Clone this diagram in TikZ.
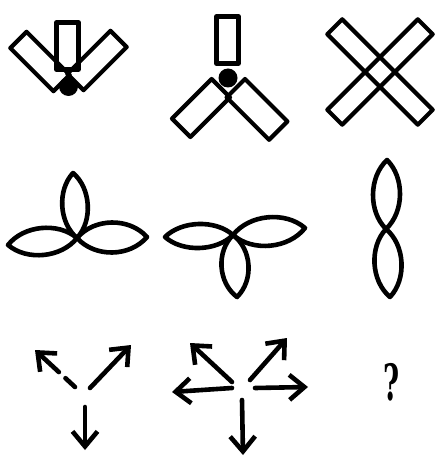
\documentclass[tikz,border=0pt]{standalone}
\usepackage{fontspec}
\newfontfamily\qfont{DejaVu Serif}
\usetikzlibrary{arrows.meta,calc}
\newcommand\lensshape[3]{%
  \draw[petal] (#1) .. controls ($(#1)!0.25!(#2)!#3!90:(#2)$) and ($(#1)!0.75!(#2)!#3!-90:(#1)$) .. (#2)
    .. controls ($(#2)!0.25!(#1)!#3!90:(#1)$) and ($(#2)!0.75!(#1)!#3!-90:(#2)$) .. cycle;}
\begin{document}
\begin{tikzpicture}[x=1pt,y=-1pt,
  bar/.style={draw, line width=4.2pt, line join=round, inner sep=0pt, minimum width=61pt, minimum height=23pt},
  longbar/.style={bar, minimum width=128pt, minimum height=21pt},
  upbar/.style={draw, line width=4.2pt, line join=round, inner sep=0pt, minimum width=22pt, minimum height=47pt},
  dot/.style={circle, fill=black, inner sep=0pt, minimum size=19pt},
  petal/.style={line width=4.6pt, line join=round},
  arr/.style={line width=4.6pt, line cap=round, -{Straight Barb[length=15pt,width=25pt]}},
  qmark/.style={font=\qfont\fontsize{50}{50}\selectfont\bfseries, inner sep=0pt, xscale=0.55}
]
\useasboundingbox (0,0) rectangle (436,462);
% ---- row 1 ----
\node[bar, rotate=-45] (p1l) at (40,61.5) {};
\node[bar, rotate=45] (p1r) at (97,60.5) {};
\node[upbar] (p1v) at (67.5,46) {};
\node[dot] (p1d) at (68.5,86.5) {};

\node[upbar] (p2v) at (227.5,40) {};
\node[dot] (p2d) at (228,78) {};
\node[bar, rotate=45, minimum width=56pt, minimum height=26pt] (p2l) at (201,108) {};
\node[bar, rotate=-45, minimum width=60pt, minimum height=26pt] (p2r) at (257,109.4) {};

\node[longbar, rotate=-45] (p3a) at (380,72) {};
\node[longbar, rotate=45] (p3b) at (380,72) {};
% ---- row 2 ----
\coordinate (j4) at (77,238);
\coordinate (t4) at (73,173);
\coordinate (l4) at (8,245);
\coordinate (r4) at (147,237);
\lensshape{j4}{t4}{17pt}
\lensshape{j4}{l4}{18pt}
\lensshape{j4}{r4}{20pt}

\coordinate (j5) at (233,235);
\coordinate (l5) at (165,237);
\coordinate (r5) at (305,228);
\coordinate (b5) at (237,297);
\lensshape{j5}{l5}{16pt}
\lensshape{j5}{r5}{19pt}
\lensshape{j5}{b5}{18pt}

\coordinate (t6) at (387,160);
\coordinate (j6) at (386,229);
\coordinate (b6) at (390,297);
\lensshape{j6}{t6}{18pt}
\lensshape{j6}{b6}{18pt}
% ---- row 3 ----
\coordinate (s7a) at (75,387); \coordinate (e7a) at (35,350);
\coordinate (s7b) at (90,388); \coordinate (e7b) at (131,345);
\coordinate (s7c) at (85,407); \coordinate (e7c) at (85,450);
\draw[arr, dash pattern=on 13pt off 9pt on 60pt off 0pt] (s7a) -- (e7a);
\draw[arr] (s7b) -- (e7b);
\draw[arr] (s7c) -- (e7c);

\coordinate (s8a) at (232,382); \coordinate (e8a) at (190,343);
\coordinate (s8b) at (250,380); \coordinate (e8b) at (287,338);
\coordinate (s8c) at (232,388); \coordinate (e8c) at (172,392);
\coordinate (s8d) at (255,388); \coordinate (e8d) at (308,387);
\coordinate (s8e) at (242,400); \coordinate (e8e) at (243,455);
\draw[arr] (s8a) -- (e8a);
\draw[arr] (s8b) -- (e8b);
\draw[arr] (s8c) -- (e8c);
\draw[arr] (s8d) -- (e8d);
\draw[arr] (s8e) -- (e8e);

\node[qmark] (q) at (392,382) {?};
\end{tikzpicture}
\end{document}
